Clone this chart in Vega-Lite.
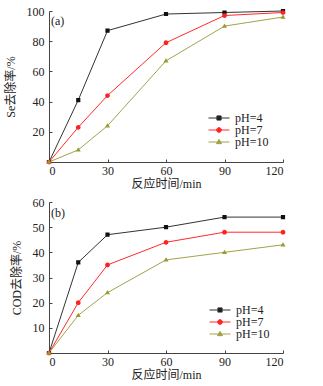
{
  "$schema": "https://vega.github.io/schema/vega-lite/v6.json",
  "background": "white",
  "padding": {"left": 4, "top": 5, "right": 6, "bottom": 6},
  "config": {
    "font": "Liberation Serif",
    "view": {"stroke": null},
    "concat": {"spacing": 7},
    "axis": {
      "grid": false,
      "labelFont": "Liberation Serif",
      "labelFontSize": 12,
      "labelColor": "#222",
      "labelOverlap": false,
      "labelSeparation": 0,
      "titleFont": "Liberation Serif, Noto Sans CJK SC",
      "titleFontSize": 12,
      "titleFontWeight": "normal",
      "titleColor": "#222",
      "domainColor": "#444",
      "tickColor": "#444",
      "tickSize": -3
    },
    "axisX": {"labelPadding": 6, "titlePadding": 2},
    "axisY": {"labelPadding": 8, "titlePadding": 9},
    "legend": {
      "labelFont": "Liberation Serif",
      "labelFontSize": 12,
      "labelColor": "#222",
      "symbolSize": 110,
      "symbolStrokeWidth": 1,
      "labelOffset": 10,
      "rowPadding": 0,
      "padding": 0,
      "orient": "bottom-right",
      "title": null
    }
  },
  "datasets": {
    "a": [
      {"t": 0, "v": 0, "pH": "pH=4"},
      {"t": 15, "v": 41, "pH": "pH=4"},
      {"t": 30, "v": 87, "pH": "pH=4"},
      {"t": 60, "v": 98, "pH": "pH=4"},
      {"t": 90, "v": 99, "pH": "pH=4"},
      {"t": 120, "v": 100, "pH": "pH=4"},
      {"t": 0, "v": 0, "pH": "pH=7"},
      {"t": 15, "v": 23, "pH": "pH=7"},
      {"t": 30, "v": 44, "pH": "pH=7"},
      {"t": 60, "v": 79, "pH": "pH=7"},
      {"t": 90, "v": 97, "pH": "pH=7"},
      {"t": 120, "v": 99, "pH": "pH=7"},
      {"t": 0, "v": 0, "pH": "pH=10"},
      {"t": 15, "v": 8, "pH": "pH=10"},
      {"t": 30, "v": 24, "pH": "pH=10"},
      {"t": 60, "v": 67, "pH": "pH=10"},
      {"t": 90, "v": 90, "pH": "pH=10"},
      {"t": 120, "v": 96, "pH": "pH=10"}
    ],
    "b": [
      {"t": 0, "v": 0, "pH": "pH=4"},
      {"t": 15, "v": 36, "pH": "pH=4"},
      {"t": 30, "v": 47, "pH": "pH=4"},
      {"t": 60, "v": 50, "pH": "pH=4"},
      {"t": 90, "v": 54, "pH": "pH=4"},
      {"t": 120, "v": 54, "pH": "pH=4"},
      {"t": 0, "v": 0, "pH": "pH=7"},
      {"t": 15, "v": 20, "pH": "pH=7"},
      {"t": 30, "v": 35, "pH": "pH=7"},
      {"t": 60, "v": 44, "pH": "pH=7"},
      {"t": 90, "v": 48, "pH": "pH=7"},
      {"t": 120, "v": 48, "pH": "pH=7"},
      {"t": 0, "v": 0, "pH": "pH=10"},
      {"t": 15, "v": 15, "pH": "pH=10"},
      {"t": 30, "v": 24, "pH": "pH=10"},
      {"t": 60, "v": 37, "pH": "pH=10"},
      {"t": 90, "v": 40, "pH": "pH=10"},
      {"t": 120, "v": 43, "pH": "pH=10"}
    ],
    "la": [{"label": "(a)", "t": 0, "v": 100}],
    "lb": [{"label": "(b)", "t": 0, "v": 60}]
  },
  "resolve": {
    "scale": {"fill": "shared", "shape": "shared", "stroke": "shared"},
    "legend": {"shape": "independent"}
  },
  "vconcat": [
    {
      "width": 234,
      "height": 151,
      "encoding": {
        "x": {"field": "t", "type": "quantitative", "scale": {"domain": [0, 120], "nice": false}, "axis": {"values": [0, 30, 60, 90, 120], "labelOverlap": false, "title": "反应时间/min"}},
        "y": {"field": "v", "type": "quantitative", "scale": {"domain": [0, 100], "nice": false}, "axis": {"values": [20, 40, 60, 80, 100], "labelOverlap": false, "title": "Se去除率/%"}}
      },
      "layer": [
        {
          "data": {"name": "a"},
          "mark": {"type": "line", "strokeWidth": 1},
          "encoding": {
            "stroke": {"field": "pH", "type": "nominal", "scale": {"domain": ["pH=4", "pH=7", "pH=10"], "range": ["#333333", "#ff2a2a", "#a3a34a"]}, "legend": null}
          }
        },
        {
          "data": {"name": "a"},
          "mark": {"type": "point", "filled": true, "size": 110, "opacity": 1, "strokeWidth": 0},
          "encoding": {
            "fill": {"field": "pH", "type": "nominal", "scale": {"domain": ["pH=4", "pH=7", "pH=10"], "range": ["#111111", "#ff2020", "#9a9a30"]}, "legend": null},
            "shape": {"field": "pH", "type": "nominal", "scale": {"domain": ["pH=4", "pH=7", "pH=10"], "range": [
              "M-2,0H2M-0.4,-0.4H0.4V0.4H-0.4Z",
              "M-2,0H2M0.45,0A0.45,0.45,0,1,1,-0.45,0A0.45,0.45,0,1,1,0.45,0Z",
              "M-2,0H2M0,-0.5L0.48,0.32H-0.48Z"
            ]}, "legend": {"offset": 14, "encoding": {"symbols": {"fill": {"value": {"expr": "scale('fill', datum.value)"}}, "stroke": {"value": {"expr": "scale('stroke', datum.value)"}}, "strokeWidth": {"value": 1}, "opacity": {"value": 1}}}}}
          }
        },
        {
          "data": {"name": "la"},
          "mark": {"type": "text", "align": "left", "baseline": "top", "dx": 2, "dy": 5, "fontSize": 12, "font": "Liberation Serif", "color": "#222"},
          "encoding": {
            "text": {"field": "label"}
          }
        }
      ]
    },
    {
      "width": 234,
      "height": 151,
      "encoding": {
        "x": {"field": "t", "type": "quantitative", "scale": {"domain": [0, 120], "nice": false}, "axis": {"values": [0, 30, 60, 90, 120], "labelOverlap": false, "title": "反应时间/min"}},
        "y": {"field": "v", "type": "quantitative", "scale": {"domain": [0, 60], "nice": false}, "axis": {"values": [10, 20, 30, 40, 50, 60], "labelOverlap": false, "title": "COD去除率/%"}}
      },
      "layer": [
        {
          "data": {"name": "b"},
          "mark": {"type": "line", "strokeWidth": 1},
          "encoding": {
            "stroke": {"field": "pH", "type": "nominal", "scale": {"domain": ["pH=4", "pH=7", "pH=10"], "range": ["#333333", "#ff2a2a", "#a3a34a"]}, "legend": null}
          }
        },
        {
          "data": {"name": "b"},
          "mark": {"type": "point", "filled": true, "size": 110, "opacity": 1, "strokeWidth": 0},
          "encoding": {
            "fill": {"field": "pH", "type": "nominal", "scale": {"domain": ["pH=4", "pH=7", "pH=10"], "range": ["#111111", "#ff2020", "#9a9a30"]}, "legend": null},
            "shape": {"field": "pH", "type": "nominal", "scale": {"domain": ["pH=4", "pH=7", "pH=10"], "range": [
              "M-2,0H2M-0.4,-0.4H0.4V0.4H-0.4Z",
              "M-2,0H2M0.45,0A0.45,0.45,0,1,1,-0.45,0A0.45,0.45,0,1,1,0.45,0Z",
              "M-2,0H2M0,-0.5L0.48,0.32H-0.48Z"
            ]}, "legend": {"offset": 13, "encoding": {"symbols": {"fill": {"value": {"expr": "scale('fill', datum.value)"}}, "stroke": {"value": {"expr": "scale('stroke', datum.value)"}}, "strokeWidth": {"value": 1}, "opacity": {"value": 1}}}}}
          }
        },
        {
          "data": {"name": "lb"},
          "mark": {"type": "text", "align": "left", "baseline": "top", "dx": 2, "dy": 6, "fontSize": 12, "font": "Liberation Serif", "color": "#222"},
          "encoding": {
            "text": {"field": "label"}
          }
        }
      ]
    }
  ]
}
